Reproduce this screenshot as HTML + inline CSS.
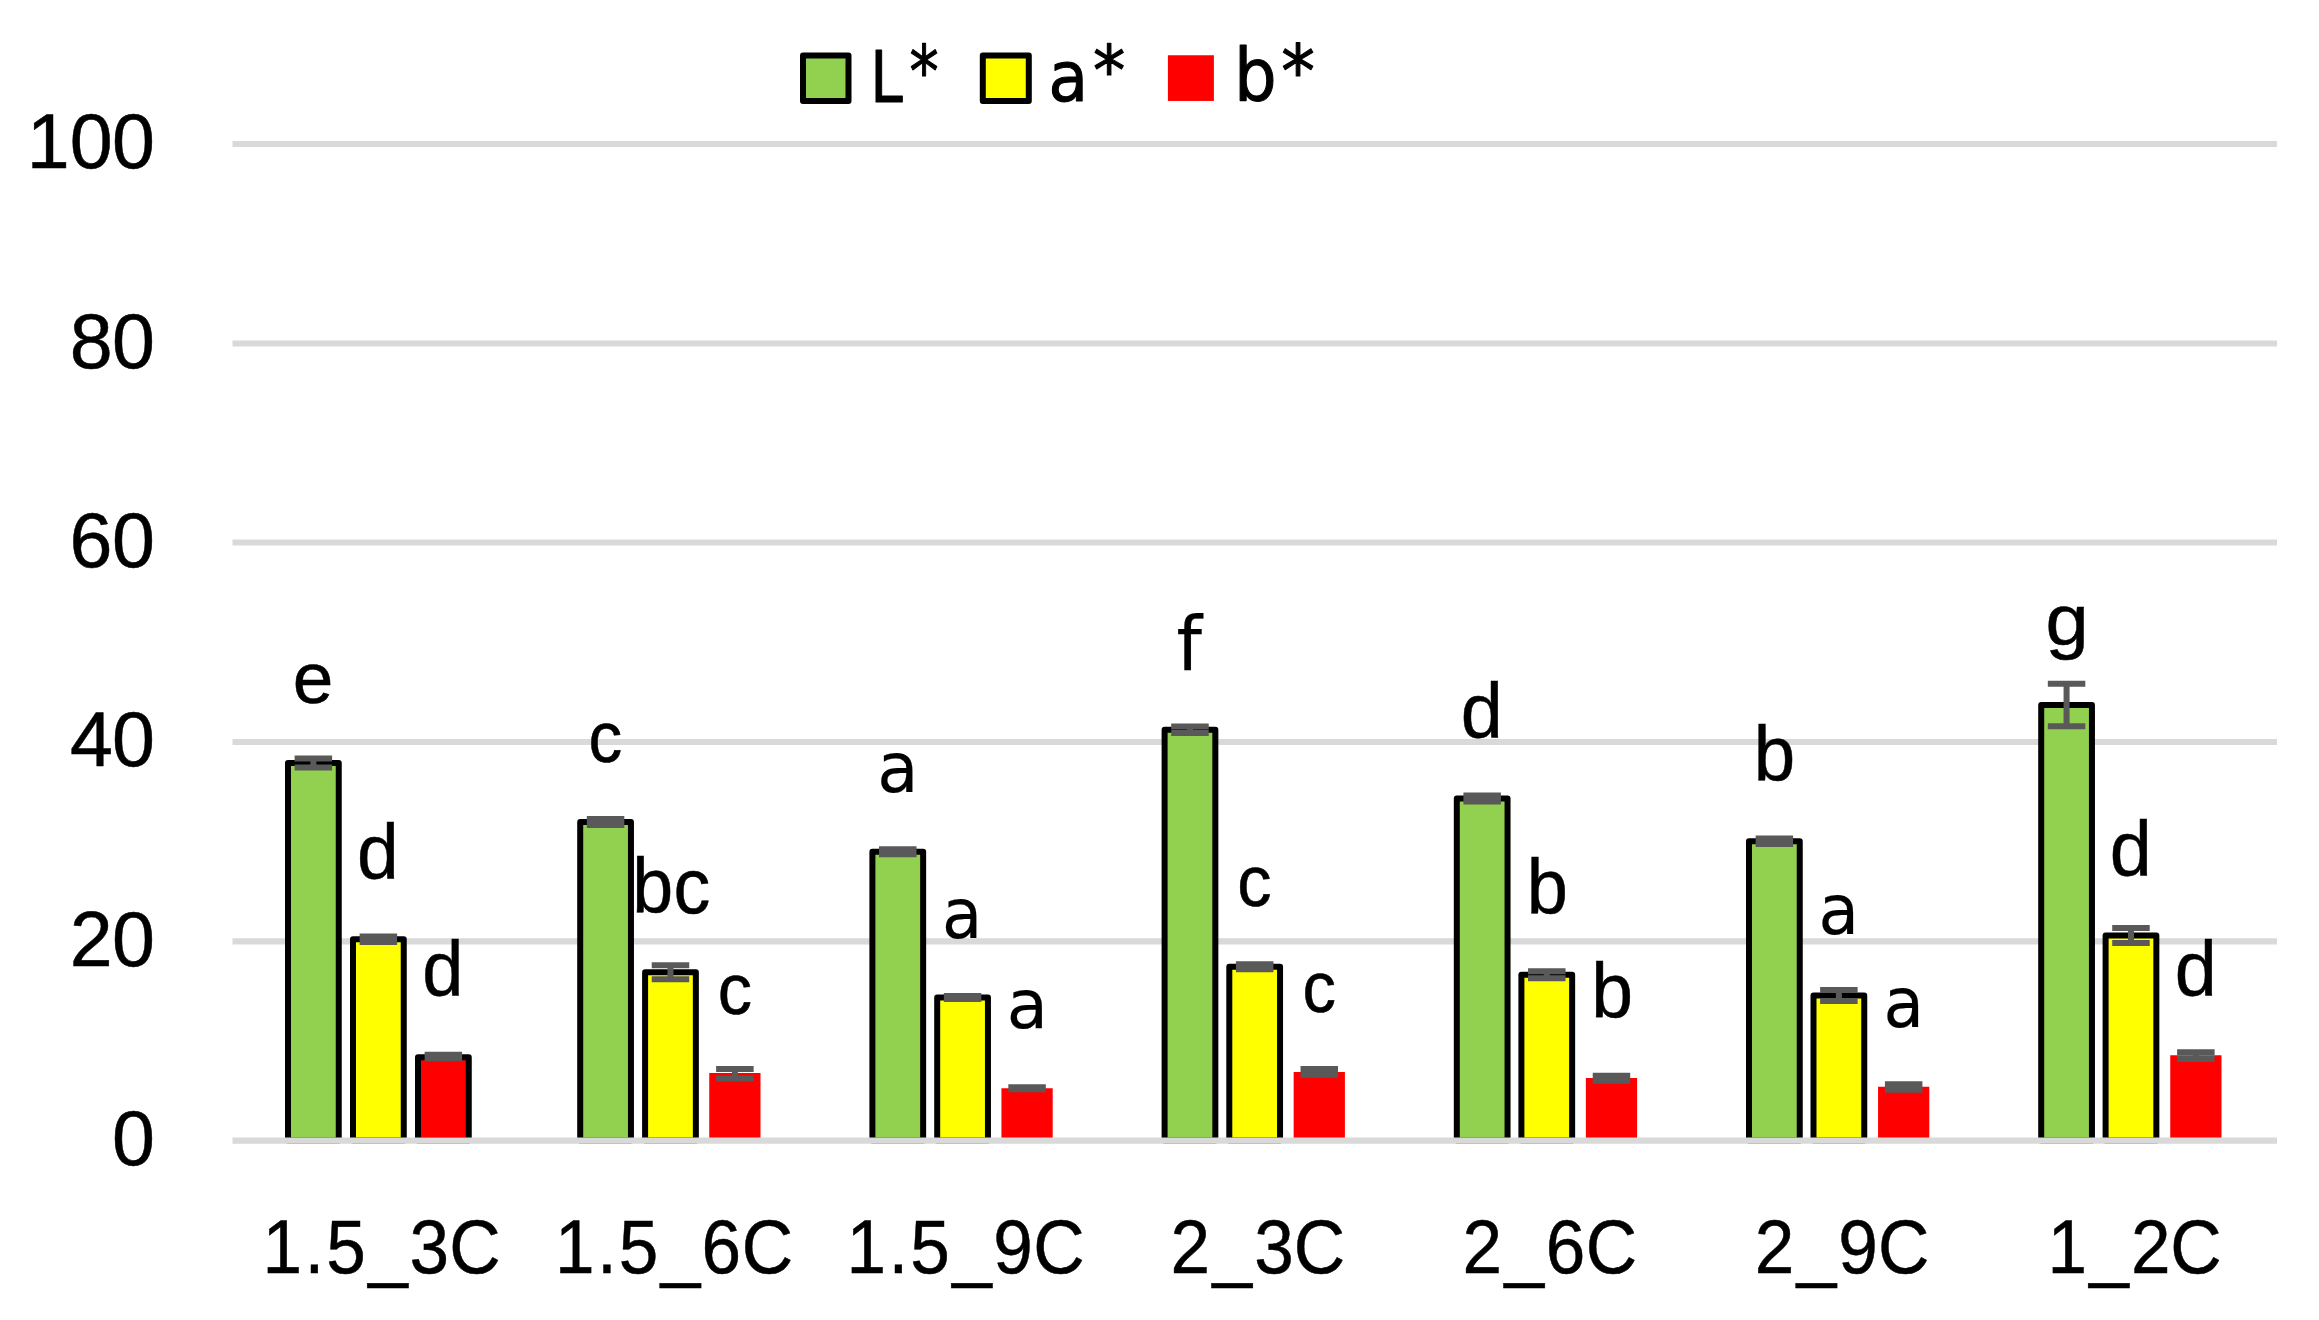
<!DOCTYPE html>
<html lang="en">
<head>
<meta charset="utf-8">
<title>Chart</title>
<style>
html,body{margin:0;padding:0;background:#fff;}
body{width:2319px;height:1320px;overflow:hidden;}
svg{display:block;}
text{font-family:"Liberation Sans",sans-serif;}
</style>
</head>
<body>
<svg width="2319" height="1320" viewBox="0 0 2319 1320">
<rect width="2319" height="1320" fill="#ffffff"/>
<g id="grid" stroke="#d9d9d9" stroke-width="6.2">
<line x1="232.5" y1="144" x2="2277" y2="144"/>
<line x1="232.5" y1="343.5" x2="2277" y2="343.5"/>
<line x1="232.5" y1="542.5" x2="2277" y2="542.5"/>
<line x1="232.5" y1="742" x2="2277" y2="742"/>
<line x1="232.5" y1="941.4" x2="2277" y2="941.4"/>
</g>
<g id="bars">
<rect x="288" y="763" width="50.75" height="377.6" fill="#92d050" stroke="#000" stroke-width="6" stroke-linejoin="round"/>
<rect x="353" y="939.25" width="50.75" height="201.35" fill="#ffff00" stroke="#000" stroke-width="6" stroke-linejoin="round"/>
<rect x="418" y="1057.25" width="50.75" height="83.35" fill="#ff0000" stroke="#000" stroke-width="6" stroke-linejoin="round"/>
<rect x="580.2" y="822" width="50.75" height="318.6" fill="#92d050" stroke="#000" stroke-width="6" stroke-linejoin="round"/>
<rect x="645.1" y="972.25" width="50.75" height="168.35" fill="#ffff00" stroke="#000" stroke-width="6" stroke-linejoin="round"/>
<rect x="709.25" y="1073" width="51.25" height="67.6" fill="#ff0000"/>
<rect x="872.4" y="851.75" width="50.75" height="288.85" fill="#92d050" stroke="#000" stroke-width="6" stroke-linejoin="round"/>
<rect x="937.2" y="997.5" width="50.75" height="143.1" fill="#ffff00" stroke="#000" stroke-width="6" stroke-linejoin="round"/>
<rect x="1001.45" y="1088.25" width="51.25" height="52.35" fill="#ff0000"/>
<rect x="1164.6" y="729.75" width="50.75" height="410.85" fill="#92d050" stroke="#000" stroke-width="6" stroke-linejoin="round"/>
<rect x="1229.3" y="966.75" width="50.75" height="173.85" fill="#ffff00" stroke="#000" stroke-width="6" stroke-linejoin="round"/>
<rect x="1293.65" y="1072" width="51.25" height="68.6" fill="#ff0000"/>
<rect x="1456.8" y="798.5" width="50.75" height="342.1" fill="#92d050" stroke="#000" stroke-width="6" stroke-linejoin="round"/>
<rect x="1521.4" y="974.75" width="50.75" height="165.85" fill="#ffff00" stroke="#000" stroke-width="6" stroke-linejoin="round"/>
<rect x="1585.85" y="1078" width="51.25" height="62.6" fill="#ff0000"/>
<rect x="1749" y="841.25" width="50.75" height="299.35" fill="#92d050" stroke="#000" stroke-width="6" stroke-linejoin="round"/>
<rect x="1813.5" y="995.5" width="50.75" height="145.1" fill="#ffff00" stroke="#000" stroke-width="6" stroke-linejoin="round"/>
<rect x="1878.05" y="1086.75" width="51.25" height="53.85" fill="#ff0000"/>
<rect x="2041.2" y="705" width="50.75" height="435.6" fill="#92d050" stroke="#000" stroke-width="6" stroke-linejoin="round"/>
<rect x="2105.6" y="935.5" width="50.75" height="205.1" fill="#ffff00" stroke="#000" stroke-width="6" stroke-linejoin="round"/>
<rect x="2170.25" y="1055.25" width="51.25" height="85.35" fill="#ff0000"/>
</g>
<g id="errs" stroke="#595959" stroke-width="6" fill="none">
<path d="M294.62 758.45H332.12M294.62 767.55H332.12M313.38 758.45V767.55"/>
<path d="M359.62 936.5H397.12M359.62 942H397.12M378.38 936.5V942"/>
<path d="M424.62 1054.75H462.12M424.62 1058.25H462.12M443.38 1054.75V1058.25"/>
<path d="M586.83 819.1H624.33M586.83 824.9H624.33M605.58 819.1V824.9"/>
<path d="M651.73 965.35H689.23M651.73 979.15H689.23M670.48 965.35V979.15"/>
<path d="M716.12 1068.9H753.62M716.12 1078.5H753.62M734.88 1068.9V1078.5"/>
<path d="M879.02 849.35H916.52M879.02 854.15H916.52M897.77 849.35V854.15"/>
<path d="M943.83 996H981.33M943.83 999H981.33M962.58 996V999"/>
<path d="M1008.33 1087.25H1045.83M1008.33 1089.25H1045.83M1027.08 1087.25V1089.25"/>
<path d="M1171.22 726.5H1208.72M1171.22 733H1208.72M1189.97 726.5V733"/>
<path d="M1235.93 964.25H1273.43M1235.93 969.25H1273.43M1254.68 964.25V969.25"/>
<path d="M1300.52 1069H1338.02M1300.52 1074.8H1338.02M1319.27 1069V1074.8"/>
<path d="M1463.42 795.4H1500.92M1463.42 801.6H1500.92M1482.17 795.4V801.6"/>
<path d="M1528.03 971.25H1565.53M1528.03 978.25H1565.53M1546.78 971.25V978.25"/>
<path d="M1592.72 1075.75H1630.22M1592.72 1080.75H1630.22M1611.47 1075.75V1080.75"/>
<path d="M1755.62 838.5H1793.12M1755.62 844H1793.12M1774.38 838.5V844"/>
<path d="M1820.12 989.9H1857.62M1820.12 1001.1H1857.62M1838.88 989.9V1001.1"/>
<path d="M1884.92 1084.25H1922.42M1884.92 1089.75H1922.42M1903.67 1084.25V1089.75"/>
<path d="M2047.82 683.8H2085.32M2047.82 726.2H2085.32M2066.57 683.8V726.2"/>
<path d="M2112.23 928.05H2149.73M2112.23 942.95H2149.73M2130.98 928.05V942.95"/>
<path d="M2177.12 1052.2H2214.62M2177.12 1059H2214.62M2195.88 1052.2V1059"/>
</g>
<line id="axis" x1="232.5" y1="1140.6" x2="2277" y2="1140.6" stroke="#d9d9d9" stroke-width="6.2"/>
<g id="legend">
<rect x="803" y="55.5" width="45.5" height="45.5" fill="#92d050" stroke="#000" stroke-width="6" stroke-linejoin="round"/>
<rect x="982.8" y="55.5" width="46" height="45.5" fill="#ffff00" stroke="#000" stroke-width="6" stroke-linejoin="round"/>
<rect x="1167.9" y="55.25" width="46" height="45.7" fill="#ff0000"/>
</g>
<g id="dlabels" font-family="'Liberation Sans', sans-serif" fill="#000" stroke="#000" stroke-width="0.5">
<text transform="translate(292.65 702.8) scale(1.012 1)" font-size="72.1">e</text>
<text transform="translate(357.09 879) scale(0.976 1)" font-size="76.94">d</text>
<text transform="translate(422.13 996.49) scale(0.953 1)" font-size="77.62">d</text>
<text transform="translate(588.62 761.55) scale(0.934 1)" font-size="72.1">c</text>
<text transform="translate(717.83 1013.54) scale(0.944 1)" font-size="72.56">c</text>
<text transform="translate(877.31 791.92) scale(0.976 1)" font-size="68.88" stroke-width="0.2" style="font-family:'DejaVu Sans',sans-serif">a</text>
<text transform="translate(941.9 937.67) scale(0.947 1)" font-size="69.31" stroke-width="0.2" style="font-family:'DejaVu Sans',sans-serif">a</text>
<text transform="translate(1006.81 1028.43) scale(0.982 1)" font-size="68.44" stroke-width="0.2" style="font-family:'DejaVu Sans',sans-serif">a</text>
<text transform="translate(1237.32 905.79) scale(0.938 1)" font-size="73.01">c</text>
<text transform="translate(1302.39 1012.04) scale(0.915 1)" font-size="73.01">c</text>
<text transform="translate(1460.82 738.24) scale(0.974 1)" font-size="77.62">d</text>
<text transform="translate(1526.72 914) scale(0.962 1)" font-size="76.94">b</text>
<text transform="translate(1591.15 1018.24) scale(0.967 1)" font-size="77.62">b</text>
<text transform="translate(1753.69 781.49) scale(0.960 1)" font-size="77.62">b</text>
<text transform="translate(1818.62 933.92) scale(0.954 1)" font-size="69.31" stroke-width="0.2" style="font-family:'DejaVu Sans',sans-serif">a</text>
<text transform="translate(1883.62 1026.92) scale(0.954 1)" font-size="69.31" stroke-width="0.2" style="font-family:'DejaVu Sans',sans-serif">a</text>
<text transform="translate(2045.51 644.9) scale(1.086 1)" font-size="71.56">g</text>
<text transform="translate(2109.82 875.74) scale(0.974 1)" font-size="77.62">d</text>
<text transform="translate(2174.82 995.74) scale(0.974 1)" font-size="77.62">d</text>
</g>
<g id="tlabels" font-family="'Liberation Sans', sans-serif" fill="#000" stroke="#000" stroke-width="0.5">
<text transform="translate(1176.53 669.9) scale(0.964 1)" font-size="75.09" stroke-width="0.2" style="font-family:'DejaVu Sans',sans-serif">f</text>
<text transform="scale(0.950 1)" x="665.58 708.84" y="912.6" font-size="77.5">bc</text>
</g>
<g id="yaxis" font-family="'Liberation Sans', sans-serif" fill="#000" stroke="#000" stroke-width="0.5">
<text transform="scale(1.000 1)" x="26.68 69.83 111.93" y="168.4" font-size="77.2">100</text>
<text transform="scale(1.000 1)" x="69.83 111.93" y="367.7" font-size="77.2">80</text>
<text transform="scale(1.000 1)" x="69.57 111.93" y="567" font-size="77.2">60</text>
<text transform="scale(1.000 1)" x="70.08 111.93" y="766.3" font-size="77.2">40</text>
<text transform="scale(1.000 1)" x="69.83 111.93" y="965.6" font-size="77.2">20</text>
<text transform="scale(1.000 1)" x="111.93" y="1164.9" font-size="77.2">0</text>
</g>
<g id="xaxis" font-family="'Liberation Sans', sans-serif" fill="#000" stroke="#000" stroke-width="0.5">
<text transform="scale(0.930 1)" x="282.39 327.41 350.71 395.95 440.24 483.18" y="1273" font-size="76.5">1.5_3C</text>
<text transform="scale(0.930 1)" x="596.9 641.93 665.23 710.46 754.27 797.7" y="1273" font-size="76.5">1.5_6C</text>
<text transform="scale(0.930 1)" x="910.34 955.37 978.67 1023.9 1067.99 1111.14" y="1273" font-size="76.5">1.5_9C</text>
<text transform="scale(0.930 1)" x="1258.7 1303.88 1348.57 1391.11" y="1273" font-size="76.5">2_3C</text>
<text transform="scale(0.930 1)" x="1572.68 1617.86 1662.07 1705.09" y="1273" font-size="76.5">2_6C</text>
<text transform="scale(0.930 1)" x="1886.93 1932.1 1976.6 2019.34" y="1273" font-size="76.5">2_9C</text>
<text transform="scale(0.930 1)" x="2201.74 2246.62 2291.5 2333.59" y="1273" font-size="76.5">1_2C</text>
</g>
<g id="legendtext" font-family="'DejaVu Sans', sans-serif" fill="#000" stroke="#000" stroke-width="1.1" stroke-linejoin="round">
<text transform="translate(870.34 101.55) scale(0.816 1)" x="0 48.09" y="0 -5.45" font-size="71.33" style="font-family:'DejaVu Sans',sans-serif">L*</text>
<text transform="translate(1048.54 100.98) scale(0.938 1)" x="0 47.36" y="0 -6.18" font-size="68.79" style="font-family:'DejaVu Sans',sans-serif">a*</text>
<text transform="translate(1234 100.92) scale(0.922 1)" x="0 51.3" y="0 -4.02" font-size="72.88" style="font-family:'DejaVu Sans',sans-serif">b*</text>
</g>
</svg>
</body>
</html>
